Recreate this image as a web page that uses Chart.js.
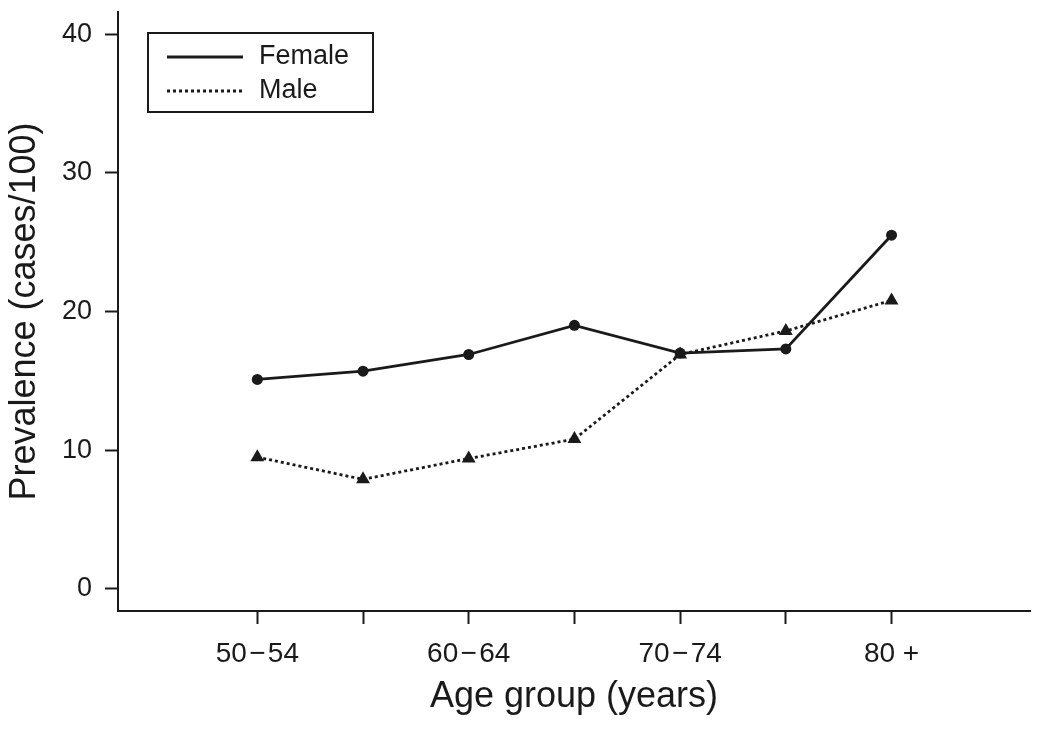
<!DOCTYPE html>
<html>
<head>
<meta charset="utf-8">
<script src="https://cdn.jsdelivr.net/npm/chart.js@4.4.1/dist/chart.umd.min.js"></script>
<style>
  html, body { margin: 0; padding: 0; background: #fff; }
  #wrap { width: 1050px; height: 729px; position: relative; }
</style>
</head>
<body>
<div id="wrap"><canvas id="c"></canvas></div>
<script>
const categories = ['50\u221254', '55\u221259', '60\u221264', '65\u221269', '70\u221274', '75\u221279', '80 +'];
const tickLabels = ['50\u200A\u2212\u200A54', '', '60\u200A\u2212\u200A64', '', '70\u200A\u2212\u200A74', '', '80 +'];
const femaleValues = [15.1, 15.7, 16.9, 19.0, 17.0, 17.3, 25.5];
const maleValues = [9.5, 7.9, 9.4, 10.8, 16.9, 18.6, 20.8];
const yTicks = [0, 10, 20, 30, 40];

const INK = '#1a1a1a';
const FONT = "'Liberation Sans', Arial, Helvetica, sans-serif";

const toPoints = vals => vals.map((v, i) => ({ x: i, y: v }));

const legendPlugin = {
  id: 'boxLegend',
  afterDraw(chart) {
    const ctx = chart.ctx;
    ctx.save();
    ctx.strokeStyle = INK;
    ctx.lineWidth = 2;
    ctx.strokeRect(148, 33, 225, 79);
    const rows = [57, 91];
    chart.data.datasets.forEach((ds, i) => {
      const y = rows[i];
      ctx.beginPath();
      ctx.setLineDash(ds.borderDash || []);
      ctx.lineWidth = ds.borderWidth;
      ctx.strokeStyle = ds.borderColor;
      ctx.moveTo(167, y);
      ctx.lineTo(243, y);
      ctx.stroke();
      ctx.setLineDash([]);
      ctx.fillStyle = INK;
      ctx.font = '27px ' + FONT;
      ctx.textBaseline = 'middle';
      ctx.textAlign = 'left';
      ctx.fillText(ds.label, 259, y);
    });
    ctx.restore();
  }
};

new Chart(document.getElementById('c'), {
  type: 'line',
  data: {
    datasets: [
      {
        label: 'Female',
        data: toPoints(femaleValues),
        borderColor: INK,
        backgroundColor: INK,
        borderWidth: 2.8,
        pointStyle: 'circle',
        pointRadius: 5.5,
        pointBorderWidth: 0,
        pointBackgroundColor: INK,
        tension: 0,
        fill: false
      },
      {
        label: 'Male',
        data: toPoints(maleValues),
        borderColor: INK,
        backgroundColor: INK,
        borderWidth: 2.8,
        borderDash: [3, 3],
        pointStyle: 'triangle',
        pointRadius: 8,
        pointBorderWidth: 0,
        pointBackgroundColor: INK,
        tension: 0,
        fill: false
      }
    ]
  },
  options: {
    responsive: true,
    maintainAspectRatio: false,
    animation: false,
    devicePixelRatio: 1,
    layout: { padding: { top: 12, right: 20, left: 0, bottom: 0 } },
    plugins: { legend: { display: false }, tooltip: { enabled: false } },
    scales: {
      x: {
        type: 'linear',
        min: -1.318,
        max: 7.31,
        afterBuildTicks: s => { s.ticks = categories.map((c, i) => ({ value: i })); },
        afterFit: s => { s.height = 118; s.paddingLeft = 0; s.paddingRight = 0; },
        ticks: {
          autoSkip: false,
          maxRotation: 0,
          color: INK,
          font: { family: FONT, size: 28 },
          padding: 13,
          callback: v => tickLabels[v]
        },
        grid: {
          drawOnChartArea: false,
          drawTicks: true,
          tickLength: 13,
          tickWidth: 2,
          tickColor: INK,
          color: INK
        },
        border: { display: true, color: INK, width: 2 },
        title: {
          display: true,
          text: 'Age group (years)',
          color: INK,
          font: { family: FONT, size: 36 },
          padding: { top: 0, bottom: 10 }
        }
      },
      y: {
        type: 'linear',
        min: -1.59,
        max: 41.59,
        afterBuildTicks: s => { s.ticks = yTicks.map(v => ({ value: v })); },
        afterFit: s => { s.width = 118; s.paddingTop = 0; s.paddingBottom = 0; },
        ticks: {
          color: INK,
          font: { family: FONT, size: 27 },
          padding: 13
        },
        grid: {
          drawOnChartArea: false,
          drawTicks: true,
          tickLength: 13,
          tickWidth: 2,
          tickColor: INK,
          color: INK
        },
        border: { display: true, color: INK, width: 2 },
        title: {
          display: true,
          text: 'Prevalence (cases/100)',
          color: INK,
          font: { family: FONT, size: 36 },
          padding: { top: 3, bottom: 0 }
        }
      }
    }
  },
  plugins: [legendPlugin]
});
</script>
</body>
</html>
